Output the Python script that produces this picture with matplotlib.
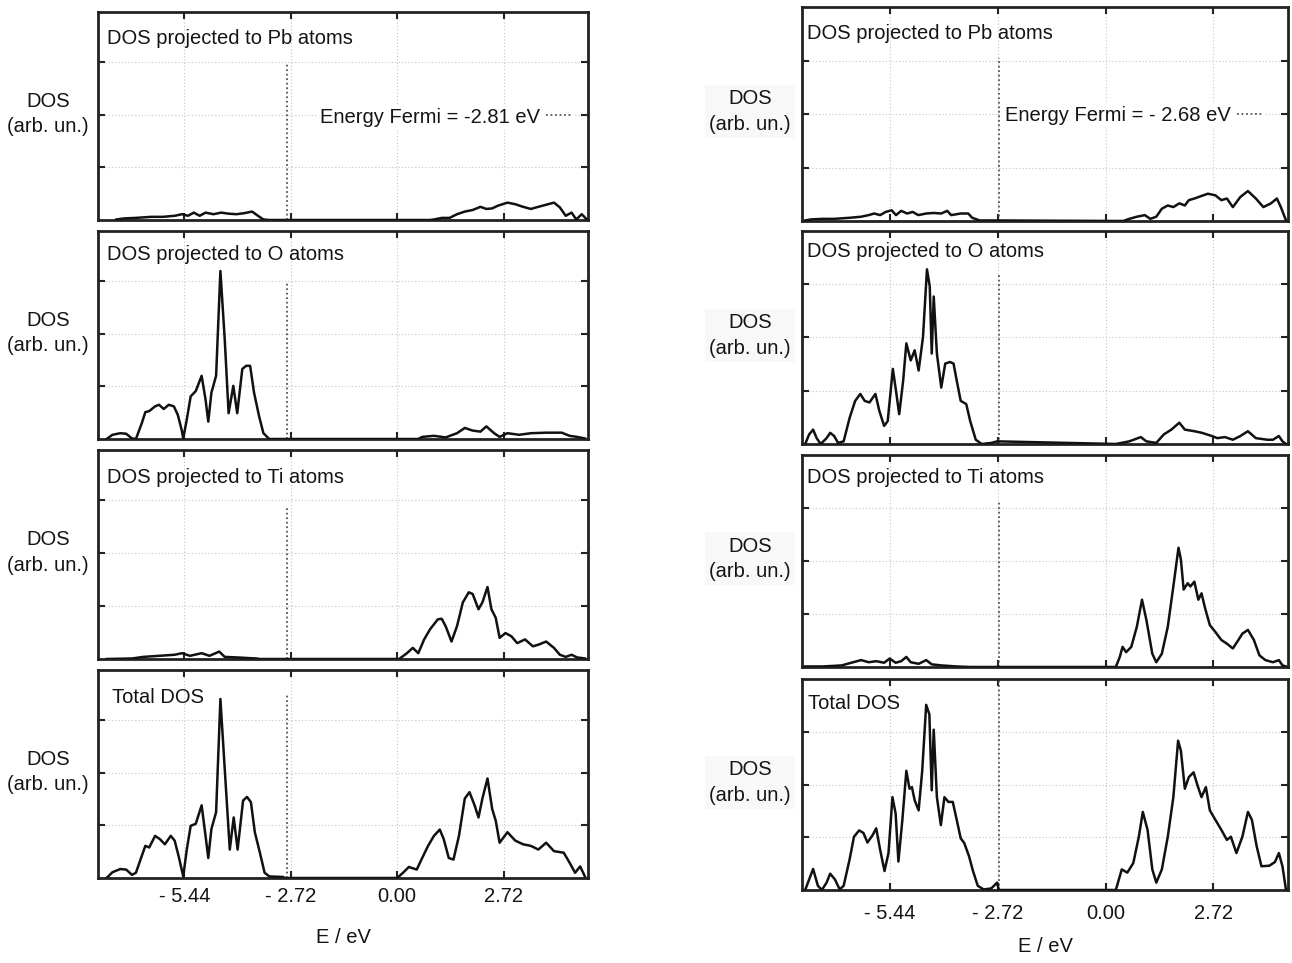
import matplotlib
matplotlib.use("Agg")
import matplotlib.pyplot as plt

plt.rcParams['font.family'] = ['Liberation Sans', 'DejaVu Sans']

# ---- data (E in eV, DOS in arb. units) ----
# left column (Fermi energy -2.81 eV)
left_pb_e = [-7.18, -6.98, -6.68, -6.29, -5.99, -5.69, -5.50, -5.35, -5.20, -5.05, -4.90, -4.70,
             -4.50, -4.31, -4.11, -3.91, -3.71, -3.56, -3.42, -3.27, 0.84, 0.94, 1.14, 1.34,
             1.53, 1.73, 1.93, 2.13, 2.28, 2.43, 2.57, 2.82, 3.02, 3.22, 3.42, 3.61, 3.81,
             4.01, 4.16, 4.31, 4.46, 4.58, 4.72, 4.85]
left_pb_v = [0.01, 0.03, 0.04, 0.06, 0.06, 0.08, 0.11, 0.08, 0.14, 0.08, 0.14, 0.11,
             0.14, 0.12, 0.11, 0.13, 0.16, 0.08, 0.01, 0.0, 0.0, 0.01, 0.04, 0.04,
             0.11, 0.16, 0.19, 0.25, 0.21, 0.22, 0.27, 0.33, 0.30, 0.25, 0.21, 0.25, 0.29,
             0.33, 0.24, 0.08, 0.14, 0.01, 0.11, 0.01]

left_o_e = [-7.43, -7.28, -7.08, -6.93, -6.78, -6.68, -6.53, -6.44, -6.34, -6.19, -6.09, -5.97,
            -5.84, -5.71, -5.61, -5.51, -5.47, -5.38, -5.28, -5.15, -5.00, -4.90, -4.83, -4.75,
            -4.63, -4.52, -4.41, -4.31, -4.19, -4.09, -3.96, -3.86, -3.76, -3.66, -3.53, -3.42,
            -3.27, -2.87, 0.54, 0.64, 0.94, 1.24, 1.53, 1.73, 1.93, 2.13, 2.28, 2.48, 2.62,
            2.82, 3.12, 3.42, 3.81, 4.21, 4.41, 4.60, 4.80]
left_o_v = [0.0, 0.08, 0.11, 0.10, 0.01, 0.0, 0.30, 0.51, 0.53, 0.62, 0.65, 0.57,
            0.65, 0.62, 0.46, 0.17, 0.01, 0.37, 0.81, 0.91, 1.20, 0.75, 0.33, 0.88,
            1.20, 3.19, 1.90, 0.49, 1.01, 0.49, 1.33, 1.39, 1.39, 0.88, 0.43, 0.11,
            0.0, 0.0, 0.0, 0.04, 0.06, 0.03, 0.11, 0.21, 0.16, 0.14, 0.24, 0.11, 0.04,
            0.11, 0.08, 0.11, 0.12, 0.12, 0.06, 0.04, 0.01]

left_ti_e = [-7.43, -6.78, -6.49, -6.09, -5.69, -5.50, -5.30, -5.00, -4.80, -4.55, -4.41, -4.11,
             -3.61, -3.51, 0.05, 0.25, 0.40, 0.54, 0.69, 0.84, 1.04, 1.14, 1.24, 1.39, 1.53,
             1.68, 1.83, 1.93, 2.08, 2.18, 2.31, 2.41, 2.52, 2.62, 2.77, 2.92, 3.07, 3.27,
             3.47, 3.61, 3.81, 4.01, 4.16, 4.31, 4.46, 4.60, 4.80]
left_ti_v = [0.0, 0.01, 0.04, 0.06, 0.08, 0.11, 0.06, 0.11, 0.06, 0.14, 0.04, 0.03,
             0.01, 0.0, 0.0, 0.11, 0.21, 0.11, 0.37, 0.56, 0.75, 0.76, 0.62, 0.33, 0.62,
             1.07, 1.26, 1.23, 0.94, 1.07, 1.36, 0.94, 0.78, 0.40, 0.49, 0.43, 0.30, 0.37,
             0.24, 0.27, 0.33, 0.21, 0.08, 0.04, 0.08, 0.03, 0.01]

left_tot_e = [-7.43, -7.28, -7.08, -6.93, -6.78, -6.68, -6.53, -6.44, -6.34, -6.19, -6.07, -5.94,
              -5.79, -5.69, -5.59, -5.47, -5.38, -5.28, -5.15, -5.00, -4.90, -4.83, -4.75, -4.63,
              -4.52, -4.41, -4.28, -4.18, -4.08, -3.94, -3.84, -3.74, -3.64, -3.51, -3.39, -3.27,
              -2.92, -2.87, 0.00, 0.15, 0.30, 0.50, 0.64, 0.79, 0.94, 1.09, 1.19, 1.32, 1.44,
              1.58, 1.73, 1.85, 1.98, 2.08, 2.18, 2.31, 2.43, 2.52, 2.62, 2.82, 3.02, 3.22,
              3.42, 3.61, 3.81, 4.01, 4.26, 4.41, 4.55, 4.68, 4.80]
left_tot_v = [0.0, 0.11, 0.17, 0.16, 0.06, 0.10, 0.42, 0.61, 0.58, 0.80, 0.74, 0.64,
              0.80, 0.71, 0.42, 0.03, 0.54, 0.99, 1.03, 1.38, 0.80, 0.38, 0.93, 1.25,
              3.40, 2.08, 0.54, 1.15, 0.54, 1.47, 1.54, 1.44, 0.87, 0.48, 0.10, 0.03,
              0.02, 0.0, 0.0, 0.10, 0.21, 0.16, 0.38, 0.61, 0.80, 0.92, 0.74, 0.38, 0.35,
              0.80, 1.51, 1.63, 1.38, 1.15, 1.51, 1.89, 1.31, 1.09, 0.67, 0.87, 0.71, 0.64,
              0.61, 0.54, 0.67, 0.51, 0.48, 0.29, 0.10, 0.22, 0.03]

# right column (Fermi energy -2.68 eV)
right_pb_e = [-7.57, -7.42, -7.13, -6.84, -6.45, -6.16, -5.97, -5.83, -5.68, -5.54, -5.39, -5.28,
              -5.15, -5.00, -4.86, -4.72, -4.52, -4.33, -4.14, -3.99, -3.89, -3.65, -3.46, -3.36,
              -3.17, -2.78, 0.45, 0.60, 0.79, 0.99, 1.13, 1.28, 1.42, 1.57, 1.71, 1.86, 2.00,
              2.10, 2.24, 2.39, 2.58, 2.77, 2.92, 3.06, 3.21, 3.40, 3.59, 3.79, 3.98, 4.17,
              4.32, 4.42, 4.55]
right_pb_v = [0.01, 0.03, 0.04, 0.04, 0.06, 0.08, 0.11, 0.14, 0.11, 0.17, 0.20, 0.11,
              0.19, 0.14, 0.17, 0.11, 0.14, 0.15, 0.14, 0.19, 0.11, 0.14, 0.14, 0.06,
              0.01, 0.01, 0.0, 0.04, 0.08, 0.11, 0.04, 0.08, 0.23, 0.29, 0.26, 0.33, 0.29,
              0.39, 0.42, 0.46, 0.51, 0.48, 0.39, 0.42, 0.26, 0.45, 0.56, 0.42, 0.26, 0.33,
              0.42, 0.26, 0.01]

right_o_e = [-7.57, -7.47, -7.37, -7.28, -7.18, -7.03, -6.94, -6.84, -6.74, -6.60, -6.45, -6.31,
             -6.18, -6.07, -5.95, -5.80, -5.70, -5.58, -5.49, -5.36, -5.27, -5.20, -5.10, -5.02,
             -4.91, -4.81, -4.71, -4.60, -4.50, -4.43, -4.38, -4.33, -4.25, -4.14, -4.04, -3.92,
             -3.83, -3.75, -3.65, -3.51, -3.41, -3.27, -3.12, -2.88, -2.73, 0.26, 0.60, 0.89,
             1.03, 1.28, 1.47, 1.66, 1.86, 2.00, 2.24, 2.43, 2.68, 2.82, 3.01, 3.21, 3.40,
             3.59, 3.79, 4.08, 4.22, 4.37, 4.46, 4.55]
right_o_v = [0.0, 0.18, 0.27, 0.11, 0.0, 0.11, 0.21, 0.15, 0.02, 0.05, 0.49, 0.81,
             0.94, 0.81, 0.78, 0.94, 0.62, 0.34, 0.43, 1.41, 0.94, 0.56, 1.19, 1.89,
             1.57, 1.76, 1.38, 2.01, 3.28, 2.96, 1.70, 2.77, 1.70, 1.06, 1.51, 1.54,
             1.51, 1.19, 0.81, 0.75, 0.43, 0.08, 0.0, 0.02, 0.05, 0.0, 0.05, 0.13,
             0.05, 0.02, 0.18, 0.27, 0.40, 0.27, 0.24, 0.21, 0.15, 0.11, 0.13, 0.08, 0.15,
             0.24, 0.11, 0.08, 0.08, 0.15, 0.05, 0.0]

right_ti_e = [-7.57, -7.13, -6.65, -6.36, -6.16, -5.97, -5.78, -5.58, -5.44, -5.29, -5.15, -5.02,
              -4.91, -4.71, -4.52, -4.38, -4.14, -3.75, -3.41, 0.26, 0.36, 0.43, 0.52, 0.65,
              0.79, 0.92, 1.03, 1.18, 1.28, 1.42, 1.57, 1.71, 1.84, 1.90, 1.97, 2.07, 2.14,
              2.24, 2.34, 2.42, 2.51, 2.63, 2.77, 2.92, 3.06, 3.21, 3.35, 3.45, 3.59, 3.74,
              3.88, 4.03, 4.22, 4.37, 4.46, 4.55]
right_ti_v = [0.01, 0.01, 0.03, 0.09, 0.13, 0.09, 0.11, 0.08, 0.16, 0.08, 0.11, 0.19,
              0.09, 0.06, 0.13, 0.05, 0.03, 0.01, 0.0, 0.0, 0.19, 0.38, 0.28, 0.38,
              0.76, 1.27, 0.89, 0.25, 0.09, 0.25, 0.76, 1.52, 2.25, 2.03, 1.46, 1.58, 1.52,
              1.61, 1.27, 1.39, 1.11, 0.79, 0.66, 0.51, 0.44, 0.35, 0.51, 0.63, 0.70, 0.51,
              0.22, 0.13, 0.09, 0.13, 0.03, 0.01]

right_tot_e = [-7.57, -7.47, -7.37, -7.25, -7.15, -7.03, -6.94, -6.82, -6.70, -6.60, -6.45, -6.34,
               -6.21, -6.10, -6.00, -5.87, -5.78, -5.68, -5.57, -5.47, -5.37, -5.29, -5.22, -5.12,
               -5.02, -4.94, -4.88, -4.81, -4.71, -4.62, -4.52, -4.44, -4.38, -4.33, -4.25, -4.15,
               -4.06, -3.96, -3.85, -3.75, -3.65, -3.56, -3.44, -3.34, -3.22, -3.07, -2.88, -2.73,
               -2.69, 0.26, 0.41, 0.55, 0.70, 0.84, 0.94, 1.06, 1.18, 1.28, 1.42, 1.57, 1.71,
               1.83, 1.90, 2.00, 2.10, 2.22, 2.32, 2.42, 2.53, 2.63, 2.77, 2.92, 3.06, 3.16,
               3.30, 3.45, 3.59, 3.69, 3.81, 3.93, 4.13, 4.27, 4.37, 4.46, 4.55]
right_tot_v = [0.0, 0.20, 0.40, 0.08, 0.0, 0.14, 0.31, 0.20, 0.01, 0.08, 0.58, 1.01,
               1.13, 1.08, 0.90, 1.04, 1.17, 0.76, 0.36, 0.70, 1.76, 1.45, 0.54, 1.33,
               2.26, 1.92, 1.95, 1.70, 1.51, 2.26, 3.51, 3.33, 1.89, 3.04, 1.76, 1.23,
               1.76, 1.67, 1.67, 1.33, 0.98, 0.89, 0.64, 0.36, 0.08, 0.01, 0.03, 0.14,
               0.0, 0.0, 0.39, 0.33, 0.51, 1.01, 1.48, 1.14, 0.39, 0.14, 0.39, 1.01, 1.76,
               2.83, 2.64, 1.92, 2.14, 2.23, 1.98, 1.76, 1.95, 1.51, 1.33, 1.14, 0.95, 1.01,
               0.70, 1.01, 1.48, 1.33, 0.83, 0.45, 0.46, 0.53, 0.70, 0.45, 0.0]

titles = ["DOS projected to Pb atoms", "DOS projected to O atoms",
          "DOS projected to Ti atoms", "Total DOS"]
tick_vals = [-5.44, -2.72, 0.00, 2.72]
tick_labels = ["- 5.44", "- 2.72", "0.00", "2.72"]
fermi = [-2.81, -2.68]
fermi_labels = ["Energy Fermi = -2.81 eV", "Energy Fermi = - 2.68 eV"]

columns = [
    [(left_pb_e, left_pb_v), (left_o_e, left_o_v), (left_ti_e, left_ti_v), (left_tot_e, left_tot_v)],
    [(right_pb_e, right_pb_v), (right_o_e, right_o_v), (right_ti_e, right_ti_v), (right_tot_e, right_tot_v)],
]

# ---- layout (pixels of the 1292x963 figure) ----
W, H = 1292, 963
col_x = [(98, 588), (802, 1288)]
col_rows = [[(12, 220), (231, 439), (450, 659), (670, 878)],
            [(7, 221), (231, 444), (455, 667), (679, 890)]]
xlims = [(-7.65, 4.88), (-7.65, 4.60)]
ylims = [3.95, 4.0]
title_pos = [[(0.018, 0.875), (0.018, 0.885), (0.018, 0.87), (0.029, 0.87)],
             [(0.010, 0.874), (0.010, 0.905), (0.010, 0.893), (0.012, 0.886)]]
fermi_top = [[0.755, 0.755, 0.73, 0.88], [0.76, 0.80, 0.78, 0.99]]
legend_x = [0.447, 0.412]
ylab_x = [-0.102, -0.107]
tick_pad = [6.5, 10]
xlab_y = [-0.288, -0.27]

fig = plt.figure(figsize=(W / 100, H / 100), dpi=100)
txt = '#141414'
fs = 14.5

for c in range(2):
    x0, x1 = col_x[c]
    for r in range(4):
        top, bot = col_rows[c][r]
        ax = fig.add_axes([x0 / W, 1 - bot / H, (x1 - x0) / W, (bot - top) / H])
        e, v = columns[c][r]
        ax.plot(e, v, color='#111111', lw=1.8, zorder=3, solid_joinstyle='round')
        fl = ax.axvline(fermi[c], ymin=0, ymax=fermi_top[c][r], color='#555555',
                        lw=1.3, ls=(0, (1, 1.5)), zorder=2)
        ax.set_xlim(*xlims[c])
        ax.set_ylim(0, ylims[c])
        ax.set_xticks(tick_vals)
        ax.set_yticks([1, 2, 3])
        ax.set_yticklabels([])
        ax.grid(True, color='#c4c4c4', lw=0.8, ls=(0, (1, 2)), zorder=0)
        ax.tick_params(direction='in', length=5, width=1.5, color='#222222',
                       top=True, right=True, labelsize=fs, labelcolor=txt, pad=tick_pad[c])
        if r == 3:
            ax.set_xticklabels(tick_labels)
            ax.set_xlabel("E / eV", fontsize=fs, color=txt, va='center')
            ax.xaxis.set_label_coords(0.5, xlab_y[c])
        else:
            ax.set_xticklabels([])
        for s in ax.spines.values():
            s.set_linewidth(2.0)
            s.set_color('#222222')
        tx, ty = title_pos[c][r]
        ax.text(tx, ty, titles[r], transform=ax.transAxes, fontsize=fs, color=txt,
                ha='left', va='center', zorder=6)
        bbox = dict(facecolor='#f8f8f8', edgecolor='none', pad=3) if c == 1 else None
        ax.text(ylab_x[c], 0.51, "DOS\n(arb. un.)", transform=ax.transAxes, fontsize=fs,
                color=txt, ha='center', va='center', linespacing=1.45, bbox=bbox)
        if r == 0:
            ax.legend(handles=[fl], labels=[fermi_labels[c]], loc='center left',
                      bbox_to_anchor=(legend_x[c], 0.495), markerfirst=False, frameon=True,
                      fancybox=False, facecolor='white', edgecolor='none', framealpha=1,
                      handlelength=1.3, handletextpad=0.3, borderpad=0.15,
                      borderaxespad=0, fontsize=fs, labelcolor=txt)

fig.savefig("out.png", dpi=100)
